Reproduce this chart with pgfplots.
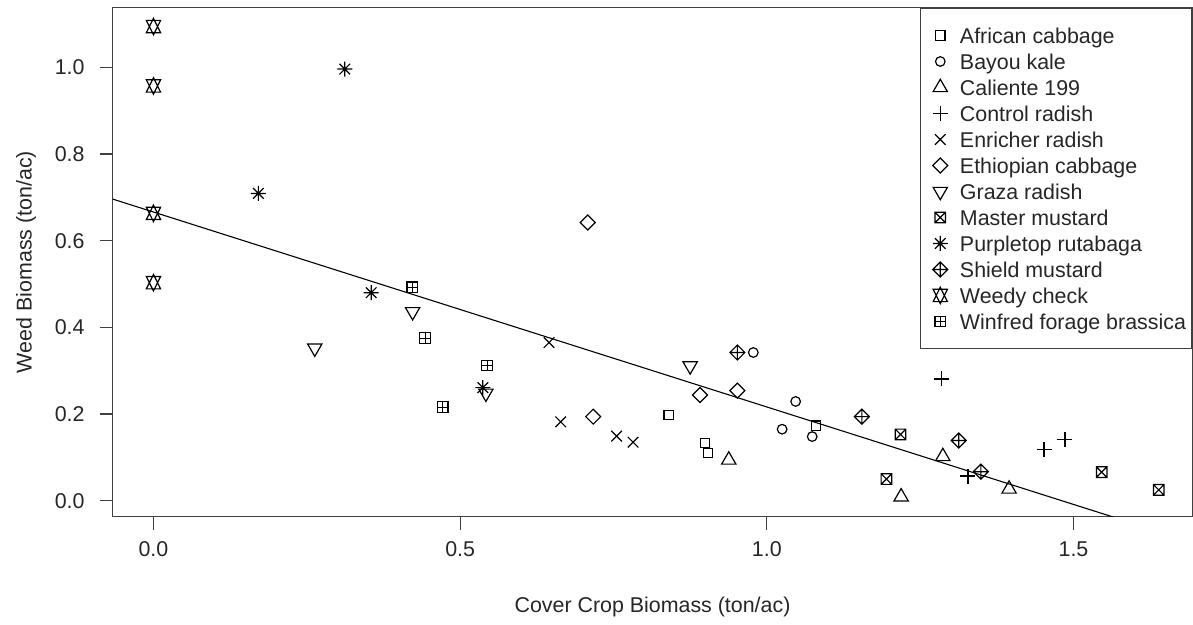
\documentclass[border=0pt]{standalone}
\usepackage{fontspec}
\setmainfont{Liberation Sans}
\usepackage{pgfplots}
\pgfplotsset{compat=1.18}

\newcommand\rfont{\fontsize{10.7}{12.8}\selectfont}

% R plotting symbols (pch 0..12), a = 2.65pt
\pgfdeclareplotmark{rsq}{\pgfpathrectangle{\pgfpoint{-2.35pt}{-2.35pt}}{\pgfpoint{4.7pt}{4.7pt}}\pgfusepathqstroke}
\pgfdeclareplotmark{rci}{\pgfpathcircle{\pgfpointorigin}{2.4pt}\pgfusepathqstroke}
\pgfdeclareplotmark{rtu}{%
  \pgfpathmoveto{\pgfpoint{-3.57pt}{-2.06pt}}\pgfpathlineto{\pgfpoint{3.57pt}{-2.06pt}}%
  \pgfpathlineto{\pgfpoint{0pt}{4.12pt}}\pgfpathclose\pgfusepathqstroke}
\pgfdeclareplotmark{rtd}{%
  \pgfpathmoveto{\pgfpoint{-3.57pt}{2.06pt}}\pgfpathlineto{\pgfpoint{3.57pt}{2.06pt}}%
  \pgfpathlineto{\pgfpoint{0pt}{-4.12pt}}\pgfpathclose\pgfusepathqstroke}
\pgfdeclareplotmark{rplus}{%
  \pgfpathmoveto{\pgfpoint{-3.75pt}{0pt}}\pgfpathlineto{\pgfpoint{3.75pt}{0pt}}%
  \pgfpathmoveto{\pgfpoint{0pt}{-3.75pt}}\pgfpathlineto{\pgfpoint{0pt}{3.75pt}}\pgfusepathqstroke}
\pgfdeclareplotmark{rx}{%
  \pgfpathmoveto{\pgfpoint{-2.65pt}{-2.65pt}}\pgfpathlineto{\pgfpoint{2.65pt}{2.65pt}}%
  \pgfpathmoveto{\pgfpoint{-2.65pt}{2.65pt}}\pgfpathlineto{\pgfpoint{2.65pt}{-2.65pt}}\pgfusepathqstroke}
\pgfdeclareplotmark{rdia}{%
  \pgfpathmoveto{\pgfpoint{-3.75pt}{0pt}}\pgfpathlineto{\pgfpoint{0pt}{3.75pt}}%
  \pgfpathlineto{\pgfpoint{3.75pt}{0pt}}\pgfpathlineto{\pgfpoint{0pt}{-3.75pt}}\pgfpathclose\pgfusepathqstroke}
\pgfdeclareplotmark{rbx}{%
  \pgfpathrectangle{\pgfpoint{-2.65pt}{-2.65pt}}{\pgfpoint{5.3pt}{5.3pt}}%
  \pgfpathmoveto{\pgfpoint{-2.65pt}{-2.65pt}}\pgfpathlineto{\pgfpoint{2.65pt}{2.65pt}}%
  \pgfpathmoveto{\pgfpoint{-2.65pt}{2.65pt}}\pgfpathlineto{\pgfpoint{2.65pt}{-2.65pt}}\pgfusepathqstroke}
\pgfdeclareplotmark{rast}{%
  \pgfpathmoveto{\pgfpoint{-3.75pt}{0pt}}\pgfpathlineto{\pgfpoint{3.75pt}{0pt}}%
  \pgfpathmoveto{\pgfpoint{0pt}{-3.75pt}}\pgfpathlineto{\pgfpoint{0pt}{3.75pt}}%
  \pgfpathmoveto{\pgfpoint{-2.65pt}{-2.65pt}}\pgfpathlineto{\pgfpoint{2.65pt}{2.65pt}}%
  \pgfpathmoveto{\pgfpoint{-2.65pt}{2.65pt}}\pgfpathlineto{\pgfpoint{2.65pt}{-2.65pt}}\pgfusepathqstroke}
\pgfdeclareplotmark{rdp}{%
  \pgfpathmoveto{\pgfpoint{-3.75pt}{0pt}}\pgfpathlineto{\pgfpoint{0pt}{3.75pt}}%
  \pgfpathlineto{\pgfpoint{3.75pt}{0pt}}\pgfpathlineto{\pgfpoint{0pt}{-3.75pt}}\pgfpathclose
  \pgfpathmoveto{\pgfpoint{-3.75pt}{0pt}}\pgfpathlineto{\pgfpoint{3.75pt}{0pt}}%
  \pgfpathmoveto{\pgfpoint{0pt}{-3.75pt}}\pgfpathlineto{\pgfpoint{0pt}{3.75pt}}\pgfusepathqstroke}
\pgfdeclareplotmark{rstar}{%
  \pgfpathmoveto{\pgfpoint{0pt}{-4.12pt}}\pgfpathlineto{\pgfpoint{3.57pt}{3.09pt}}%
  \pgfpathlineto{\pgfpoint{-3.57pt}{3.09pt}}\pgfpathclose
  \pgfpathmoveto{\pgfpoint{0pt}{4.12pt}}\pgfpathlineto{\pgfpoint{3.57pt}{-3.09pt}}%
  \pgfpathlineto{\pgfpoint{-3.57pt}{-3.09pt}}\pgfpathclose\pgfusepathqstroke}
\pgfdeclareplotmark{rbp}{%
  \pgfpathrectangle{\pgfpoint{-2.65pt}{-2.65pt}}{\pgfpoint{5.3pt}{5.3pt}}%
  \pgfpathmoveto{\pgfpoint{-2.65pt}{0pt}}\pgfpathlineto{\pgfpoint{2.65pt}{0pt}}%
  \pgfpathmoveto{\pgfpoint{0pt}{-2.65pt}}\pgfpathlineto{\pgfpoint{0pt}{2.65pt}}\pgfusepathqstroke}

\begin{document}
\begin{tikzpicture}
\begin{axis}[
    scale only axis,
    width=539.9pt,
    height=254.6pt,
    xmin=-0.0665, xmax=1.6938,
    ymin=-0.0367, ymax=1.138,
    axis line style={black!75, line width=0.65pt},
    tick align=outside,
    xtick pos=bottom, ytick pos=left,
    major tick length=6.5pt,
    tick style={black!75, line width=0.6pt},
    xtick={0,0.5,1,1.5},
    xticklabels={0.0,0.5,1.0,1.5},
    ytick={0,0.2,0.4,0.6,0.8,1.0},
    yticklabels={0.0,0.2,0.4,0.6,0.8,1.0},
    /pgf/number format/assume math mode=true,
    ticklabel style={font=\rfont, text=black!85, inner sep=0pt},
    xticklabel style={anchor=center, yshift=-9.65pt},
    yticklabel style={anchor=east, xshift=-7.35pt},
    xlabel={Cover Crop Biomass (ton/ac)},
    ylabel={Weed Biomass (ton/ac)},
    xlabel style={font=\rfont, text=black!85, at={(axis description cs:0.5,-0.1773)}, anchor=center},
    ylabel style={font=\rfont, text=black!85,
                  at={(axis description cs:-0.0803,0.5)}, anchor=center},
    legend style={at={(1,1)}, anchor=north east, draw=black!75, line width=0.6pt,
                  fill=white, inner xsep=2.9pt, inner ysep=7.2pt,
                  row sep=0pt, column sep=0pt, font=\rfont,
                  nodes={inner sep=0pt, text height=7.7pt, text depth=0pt, text=black!85}},
    legend cell align=left,
    legend image code/.code={%
      \pgfpathrectangle{\pgfpoint{-6.95pt}{-6.5pt}}{\pgfpoint{16.8pt}{13pt}}\pgfusepath{discard}%
      \draw[#1] plot coordinates {(0pt,0pt)};},
    every axis plot/.append style={line width=0.6pt, black},
]
% African cabbage
\addplot[only marks, mark=rsq] coordinates {(0.840,0.198) (0.899,0.133) (0.904,0.110) (1.080,0.173)};
\addlegendentry{African cabbage}
% Bayou kale
\addplot[only marks, mark=rci] coordinates {(0.978,0.342) (1.047,0.229) (1.025,0.165) (1.074,0.148)};
\addlegendentry{Bayou kale}
% Caliente 199
\addplot[only marks, mark=rtu] coordinates {(0.938,0.094) (1.219,0.009) (1.287,0.102) (1.395,0.027)};
\addlegendentry{Caliente 199}
% Control radish
\addplot[only marks, mark=rplus] coordinates {(1.285,0.281) (1.328,0.057) (1.452,0.119) (1.486,0.142)};
\addlegendentry{Control radish}
% Enricher radish
\addplot[only marks, mark=rx] coordinates {(0.645,0.365) (0.664,0.182) (0.755,0.149) (0.782,0.135)};
\addlegendentry{Enricher radish}
% Ethiopian cabbage
\addplot[only marks, mark=rdia] coordinates {(0.708,0.642) (0.717,0.194) (0.891,0.244) (0.952,0.254)};
\addlegendentry{Ethiopian cabbage}
% Graza radish
\addplot[only marks, mark=rtd] coordinates {(0.263,0.352) (0.4225,0.436) (0.542,0.248) (0.875,0.311)};
\addlegendentry{Graza radish}
% Master mustard
\addplot[only marks, mark=rbx] coordinates {(1.218,0.153) (1.195,0.050) (1.546,0.066) (1.639,0.025)};
\addlegendentry{Master mustard}
% Purpletop rutabaga
\addplot[only marks, mark=rast] coordinates {(0.312,0.996) (0.171,0.709) (0.355,0.480) (0.537,0.261)};
\addlegendentry{Purpletop rutabaga}
% Shield mustard
\addplot[only marks, mark=rdp] coordinates {(0.952,0.342) (1.155,0.194) (1.313,0.139) (1.349,0.067)};
\addlegendentry{Shield mustard}
% Weedy check
\addplot[only marks, mark=rstar] coordinates {(0,1.094) (0,0.957) (0,0.663) (0,0.503)};
\addlegendentry{Weedy check}
% Winfred forage brassica
\addplot[only marks, mark=rbp] coordinates {(0.422,0.4925) (0.443,0.375) (0.544,0.312) (0.4715,0.216)};
\addlegendentry{Winfred forage brassica}
% fitted line
\addplot[black, line width=0.55pt, forget plot] coordinates {(-0.0665,0.696) (1.6938,-0.0957)};
\coordinate (ll) at (rel axis cs:0,0);
\coordinate (ur) at (rel axis cs:1,1);
\end{axis}
\path ([xshift=-56.35pt,yshift=-54.15pt]ll) rectangle ([yshift=3.75pt]ur);
\end{tikzpicture}
\end{document}
